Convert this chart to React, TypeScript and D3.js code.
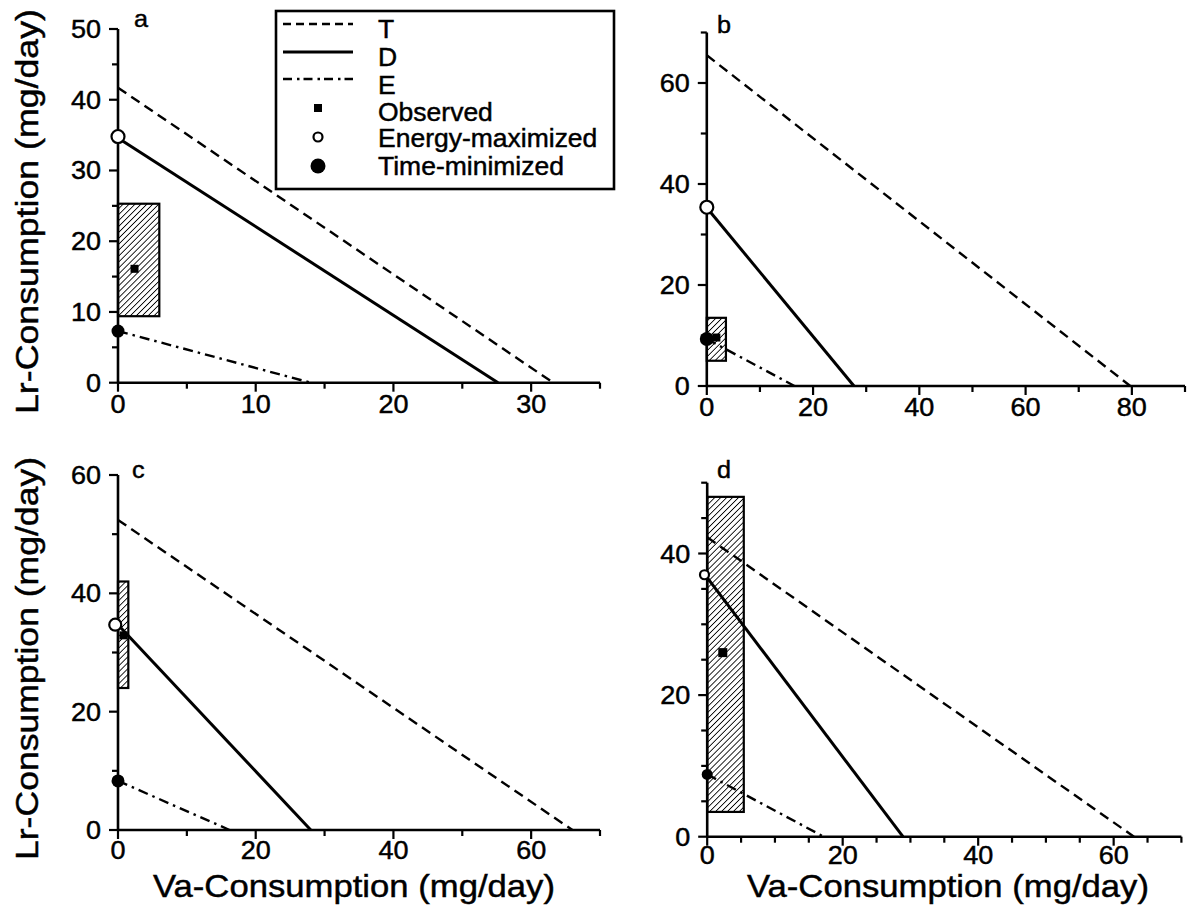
import React from "react";
import * as d3 from "d3";

// ---------- data ----------
const panelLetters = ["a", "b", "c", "d"];
const xMax = [35, 90, 70, 70];
const yMax = [50, 70, 60, 50];
const xMajorStep = [10, 20, 20, 20];
const xMinorStep = [5, 10, 10, 5];
const yMajorStep = [10, 20, 20, 20];
const yMinorStep = [5, 10, 10, 5];
const yLabelTicks = [[0, 10, 20, 30, 40, 50], [0, 20, 40, 60], [0, 20, 40, 60], [0, 20, 40]];
const xLabelTicks = [[0, 10, 20, 30], [0, 20, 40, 60, 80], [0, 20, 40, 60], [0, 20, 40, 60]];

// line intercepts: [Lr at Va=0, Va at Lr=0]
const lineT = [[41.7, 31.6], [65.5, 79.7], [52.4, 66.0], [42.3, 63.0]];
const lineD = [[34.6, 27.6], [35.3, 27.7], [34.7, 28.0], [36.6, 28.9]];
const lineE = [[7.3, 14.0], [9.3, 16.5], [8.3, 16.2], [8.8, 17.2]];

const energyMax: [number, number][] = [[0, 34.8], [0, 35.4], [-0.4, 34.7], [-0.4, 37]];
const timeMin: [number, number][] = [[0, 7.3], [0, 9.3], [0, 8.3], [0, 8.8]];
const observed: [number, number][] = [[1.2, 16.1], [1.8, 9.6], [0.8, 32.9], [2.3, 26]];
const observedVaRange = [[0, 3.0], [0, 3.6], [0, 1.5], [0, 5.4]];
const observedLrRange = [[9.4, 25.3], [5.0, 13.5], [24.0, 42.0], [3.5, 48.0]];

const legendLabels = ["T", "D", "E", "Observed", "Energy-maximized", "Time-minimized"];
const xTitle = "Va-Consumption (mg/day)";
const yTitle = "Lr-Consumption (mg/day)";

// ---------- layout ----------
const W = 1194, H = 917;
const FONT = "'Liberation Sans', Arial, Helvetica, sans-serif";
const layout = [
  { x0: 118, x1: 600, y0: 382.7, y1: 29, lx: 134, ly: 27, tickDy: 30 },
  { x0: 706.8, x1: 1185, y0: 386, y1: 32.5, lx: 717, ly: 33, tickDy: 30 },
  { x0: 118, x1: 600, y0: 830, y1: 475, lx: 132, ly: 478, tickDy: 29 },
  { x0: 707.2, x1: 1181.4, y0: 836.7, y1: 482.7, lx: 717, ly: 478, tickDy: 27 },
];
const openR = [6.5, 6.5, 6, 4.5];
const fillR = [6.5, 7, 6.5, 5.5];
const obsSize = [8, 8, 8, 9];
const DASH_T = "10,6";
const DASH_E = "10,5,2.5,5";
const TEXT_STROKE = 0.45;

function Txt({ x, y, size, anchor = "start", sx = 1, children, rotate = 0, textLength, bold = TEXT_STROKE }: any) {
  return (
    <g transform={`translate(${x},${y}) rotate(${rotate}) scale(${sx},1)`}>
      <text
        x={0}
        y={0}
        fontSize={size}
        fontFamily={FONT}
        textAnchor={anchor}
        fill="#000"
        stroke="#000"
        strokeWidth={bold}
        textLength={textLength}
        lengthAdjust={textLength ? "spacingAndGlyphs" : undefined}
      >
        {children}
      </text>
    </g>
  );
}

function ticksFor(max: number, step: number) {
  return d3.range(0, max + 1e-6, step);
}

function Panel({ i }: { i: number }) {
  const L = layout[i];
  const x = d3.scaleLinear().domain([0, xMax[i]]).range([L.x0, L.x1]);
  const y = d3.scaleLinear().domain([0, yMax[i]]).range([L.y0, L.y1]);
  const line = d3.line<[number, number]>().x((d) => x(d[0])).y((d) => y(d[1]));

  const xMaj = ticksFor(xMax[i], xMajorStep[i]);
  const xMin = ticksFor(xMax[i], xMinorStep[i]).filter((v) => !xMaj.some((m) => Math.abs(m - v) < 1e-6));
  const yMaj = ticksFor(yMax[i], yMajorStep[i]);
  const yMin = ticksFor(yMax[i], yMinorStep[i]).filter((v) => !yMaj.some((m) => Math.abs(m - v) < 1e-6));

  const seg = (p: number[]): [number, number][] => [[0, p[0]], [p[1], 0]];
  const [va0, va1] = observedVaRange[i];
  const [lr0, lr1] = observedLrRange[i];
  const s = obsSize[i];

  return (
    <g>
      {/* observed range box */}
      <rect
        x={x(va0)}
        y={y(lr1)}
        width={x(va1) - x(va0)}
        height={y(lr0) - y(lr1)}
        fill="url(#hatch)"
        stroke="#000"
        strokeWidth={2.2}
      />
      {/* axes */}
      <line x1={x(0)} y1={y(0)} x2={x(0)} y2={y(yMax[i])} stroke="#000" strokeWidth={2.6} />
      <line x1={x(0)} y1={y(0)} x2={x(xMax[i])} y2={y(0)} stroke="#000" strokeWidth={2.6} />
      {xMaj.map((v) => (
        <line key={"xM" + v} x1={x(v)} x2={x(v)} y1={y(0)} y2={y(0) + 9} stroke="#000" strokeWidth={2.2} />
      ))}
      {xMin.map((v) => (
        <line key={"xm" + v} x1={x(v)} x2={x(v)} y1={y(0)} y2={y(0) + 6} stroke="#000" strokeWidth={2.2} />
      ))}
      {yMaj.map((v) => (
        <line key={"yM" + v} x1={x(0) - 9} x2={x(0)} y1={y(v)} y2={y(v)} stroke="#000" strokeWidth={2.2} />
      ))}
      {yMin.map((v) => (
        <line key={"ym" + v} x1={x(0) - 6} x2={x(0)} y1={y(v)} y2={y(v)} stroke="#000" strokeWidth={2.2} />
      ))}
      {xLabelTicks[i].map((v) => (
        <Txt key={"xl" + v} x={x(v)} y={y(0) + L.tickDy} size={25} sx={1.08} anchor="middle">
          {v}
        </Txt>
      ))}
      {yLabelTicks[i].map((v) => (
        <Txt key={"yl" + v} x={x(0) - 17} y={y(v) + 9} size={25} sx={1.08} anchor="end">
          {v}
        </Txt>
      ))}
      {/* lines */}
      <path d={line(seg(lineT[i])) || ""} fill="none" stroke="#000" strokeWidth={2.4} strokeDasharray={DASH_T} />
      <path d={line(seg(lineE[i])) || ""} fill="none" stroke="#000" strokeWidth={2.4} strokeDasharray={DASH_E} />
      <path d={line(seg(lineD[i])) || ""} fill="none" stroke="#000" strokeWidth={3} />
      {/* markers */}
      <rect x={x(observed[i][0]) - s / 2} y={y(observed[i][1]) - s / 2} width={s} height={s} fill="#000" />
      <circle cx={x(energyMax[i][0])} cy={y(energyMax[i][1])} r={openR[i]} fill="#fff" stroke="#000" strokeWidth={2.2} />
      <circle cx={x(timeMin[i][0])} cy={y(timeMin[i][1])} r={fillR[i]} fill="#000" />
      <Txt x={L.lx} y={L.ly} size={24} sx={1.05}>
        {panelLetters[i]}
      </Txt>
    </g>
  );
}

const legendBox = { x: 276, y: 11, w: 338, h: 178 };
const legendMarkY = [24, 52, 79, 108, 137, 166];
const legendTextY = [38, 66, 94, 121, 147, 175];

function Legend() {
  const lx0 = 283, lx1 = 353, mx = 318, tx = 378;
  return (
    <g>
      <rect x={legendBox.x} y={legendBox.y} width={legendBox.w} height={legendBox.h} fill="#fff" stroke="#000" strokeWidth={2.6} />
      <line x1={lx0} x2={lx1} y1={legendMarkY[0]} y2={legendMarkY[0]} stroke="#000" strokeWidth={2.4} strokeDasharray="8,5" />
      <line x1={lx0} x2={lx1} y1={legendMarkY[1]} y2={legendMarkY[1]} stroke="#000" strokeWidth={3} />
      <line x1={lx0} x2={lx1} y1={legendMarkY[2]} y2={legendMarkY[2]} stroke="#000" strokeWidth={2.4} strokeDasharray="9,5,2.5,4" />
      <rect x={mx - 4} y={legendMarkY[3] - 4} width={8} height={8} fill="#000" />
      <circle cx={mx} cy={legendMarkY[4]} r={4.5} fill="#fff" stroke="#000" strokeWidth={2.2} />
      <circle cx={mx} cy={legendMarkY[5]} r={7.5} fill="#000" />
      {legendLabels.map((t, k) => (
        <Txt key={t} x={tx} y={legendTextY[k]} size={25} sx={1.06}>
          {t}
        </Txt>
      ))}
    </g>
  );
}

export default function App() {
  return (
    <svg
      width={W}
      height={H}
      viewBox={`0 0 ${W} ${H}`}
      style={{ position: "absolute", left: 0, top: 0, background: "#fff", display: "block" }}
    >
      <defs>
        <pattern id="hatch" patternUnits="userSpaceOnUse" width={4.2} height={4.2} patternTransform="rotate(45)">
          <rect width={4.2} height={4.2} fill="#fff" />
          <line x1={0} y1={0} x2={0} y2={4.2} stroke="#000" strokeWidth={1.7} />
        </pattern>
      </defs>
      <rect x={0} y={0} width={W} height={H} fill="#fff" />
      {[0, 1, 2, 3].map((i) => (
        <Panel key={i} i={i} />
      ))}
      <Legend />
      <Txt x={38} y={211.5} size={31} rotate={-90} anchor="middle" textLength={405}>
        {yTitle}
      </Txt>
      <Txt x={38} y={658.5} size={31} rotate={-90} anchor="middle" textLength={403}>
        {yTitle}
      </Txt>
      <Txt x={354} y={897} size={32} anchor="middle" textLength={402}>
        {xTitle}
      </Txt>
      <Txt x={948} y={897} size={32} anchor="middle" textLength={402}>
        {xTitle}
      </Txt>
    </svg>
  );
}
